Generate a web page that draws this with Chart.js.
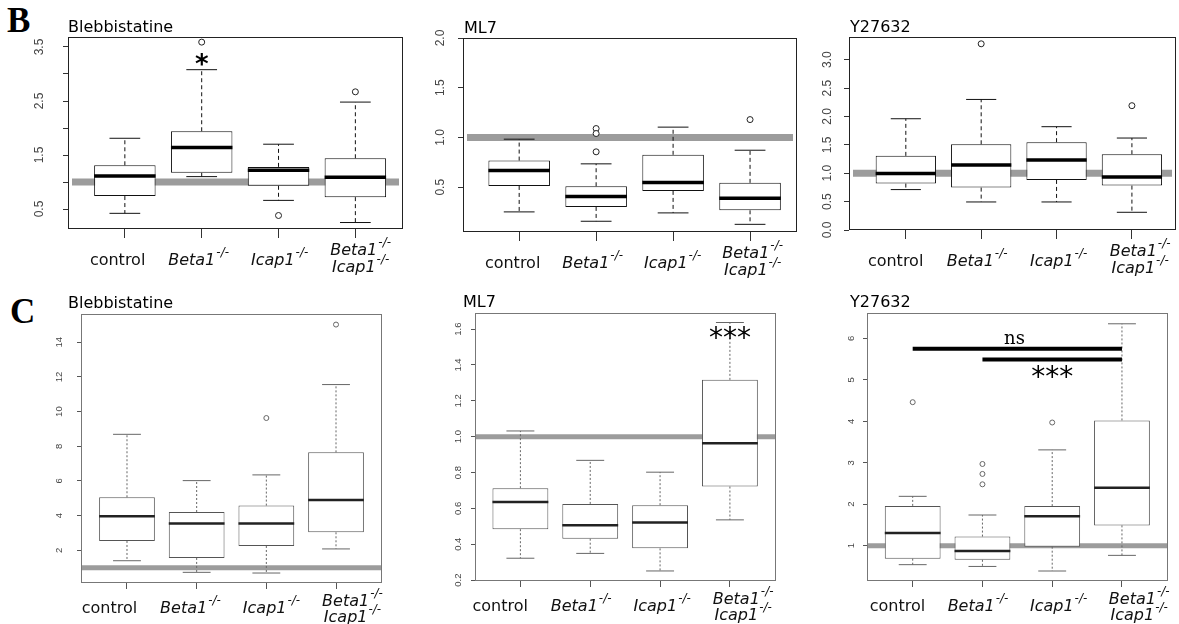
<!DOCTYPE html>
<html><head><meta charset="utf-8">
<script src="https://cdn.jsdelivr.net/npm/chart.js@4.4.1/dist/chart.umd.min.js"></script>
<style>
html,body{margin:0;padding:0;background:#fff;}
#wrap{position:relative;width:1179px;height:624px;overflow:hidden;background:#fff;}
#wrap canvas{position:absolute;}
.letter{position:absolute;font-family:"Liberation Serif","DejaVu Serif",serif;font-weight:bold;font-size:35px;line-height:1;color:#000;}
</style></head><body>
<div id="wrap">
<div class="letter" style="left:7px;top:3px">B</div>
<div class="letter" style="left:10px;top:294px">C</div>
</div>
<script>
// ---------------- data ----------------
const CATEGORIES = ["control", "Beta1-/-", "Icap1-/-", "Beta1-/-\nIcap1-/-"];
const REF_VALUE = 1;

// stats per category: [lower whisker, Q1, median, Q3, upper whisker]
const B_BLEB_STATS = [[0.42,0.74,1.11,1.31,1.81],[1.10,1.17,1.64,1.94,3.08],[0.66,0.93,1.22,1.28,1.70],[0.25,0.72,1.09,1.44,2.48]];
const B_BLEB_OUTLIERS = [[],[3.59],[0.38],[2.67]];
const B_BLEB_YTICKS = [0.5,1,1.5,2,2.5,3,3.5];
const B_BLEB_YLABELS = ["0.5","","1.5","","2.5","","3.5"];
const B_BLEB_MARKS = [["*",2,3.26]];

const B_ML7_STATS = [[0.252,0.513,0.668,0.768,0.983],[0.158,0.302,0.406,0.51,0.735],[0.242,0.463,0.547,0.826,1.104],[0.127,0.268,0.389,0.544,0.872]];
const B_ML7_OUTLIERS = [[],[1.09,1.04,0.856],[],[1.18]];
const B_ML7_YTICKS = [0.5,1,1.5,2];
const B_ML7_YLABELS = ["0.5","1.0","1.5","2.0"];

const B_Y27_STATS = [[0.712,0.818,0.994,1.306,1.96],[0.494,0.747,1.147,1.51,2.30],[0.494,0.882,1.235,1.547,1.82],[0.312,0.782,0.935,1.335,1.62]];
const B_Y27_OUTLIERS = [[],[3.28],[],[2.19]];
const B_Y27_YTICKS = [0,0.5,1,1.5,2,2.5,3];
const B_Y27_YLABELS = ["0.0","0.5","1.0","1.5","2.0","2.5","3.0"];

const C_BLEB_STATS = [[1.40,2.54,3.96,5.06,8.69],[0.73,1.56,3.54,4.21,6.02],[0.69,2.25,3.54,4.58,6.35],[2.08,3.04,4.90,7.65,11.56]];
const C_BLEB_OUTLIERS = [[],[],[9.63],[15.02]];
const C_BLEB_YTICKS = [2,4,6,8,10,12,14];
const C_BLEB_YLABELS = ["2","4","6","8","10","12","14"];

const C_ML7_STATS = [[0.322,0.484,0.635,0.713,1.032],[0.349,0.431,0.506,0.625,0.868],[0.251,0.377,0.521,0.618,0.802],[0.536,0.722,0.963,1.317,1.637]];
const C_ML7_OUTLIERS = [[],[],[],[]];
const C_ML7_YTICKS = [0.2,0.4,0.6,0.8,1.0,1.2,1.4,1.6];
const C_ML7_YLABELS = ["0.2","0.4","0.6","0.8","1.0","1.2","1.4","1.6"];
const C_ML7_MARKS = [["***",4,1.58]];

const C_Y27_STATS = [[0.543,0.687,1.305,1.96,2.19],[0.50,0.66,0.87,1.22,1.74],[0.39,0.976,1.71,1.955,3.31],[0.767,1.49,2.40,4.02,6.35]];
const C_Y27_OUTLIERS = [[4.46],[2.97,2.73,2.48],[3.97],[]];
const C_Y27_YTICKS = [1,2,3,4,5,6];
const C_Y27_YLABELS = ["1","2","3","4","5","6"];
const C_Y27_BRACKETS = [[1,4,5.75],[2,4,5.49]];
const C_Y27_MARKS = [["ns",2.46,5.99],["***",3.0,5.19]];

// ---------------- styles ----------------
const STYLE_B = {
  titleDY:-5.5, yFont:'12px "Liberation Sans", Arial, sans-serif', yColor:'#444',
  labelY1:36, labelY2a:26, labelY2b:42.5, supRaise:9, xTickLen:9, yTickLen:5,
  frameColor:'#222', tickColor:'#333', refWidth:7, refInset:4, refColor:'#9c9c9c',
  boxColor:'#111', whiskerColor:'#111', dash:[4,3], medColor:'#000', medWidth:3.5,
  outColor:'#222', outR:3, starFont:'bold 26px "DejaVu Sans"'
};
const STYLE_C = {
  titleDY:-6, yFont:'9.5px "Liberation Sans", Arial, sans-serif', yColor:'#444',
  labelY1:29.5, labelY2a:22.5, labelY2b:39, supRaise:9, xTickLen:6, yTickLen:4,
  frameColor:'#777', tickColor:'#555', refWidth:5, refInset:1, refColor:'#9c9c9c',
  boxColor:'#555', whiskerColor:'#666', dash:[2,2], medColor:'#222', medWidth:2.5,
  outColor:'#666', outR:2.5, starFont:'28px "DejaVu Sans"'
};

const PANELS = [
  {title:'Blebbistatine', st:STYLE_B, L:68, T:37, R:403, B:229, padR:10, xMin:0.26, xMax:4.62, yMin:0.13, yMax:3.685,
   stats:B_BLEB_STATS, outliers:B_BLEB_OUTLIERS, yTicks:B_BLEB_YTICKS, yLabels:B_BLEB_YLABELS, marks:B_BLEB_MARKS,
   titleDX:0, yLabelDX:-28, labelDX:-1, labelSpacing:81},
  {title:'ML7', st:STYLE_B, L:463, T:38, R:797, B:232, padR:10, xMin:0.27, xMax:4.61, yMin:0.05, yMax:2.0,
   stats:B_ML7_STATS, outliers:B_ML7_OUTLIERS, yTicks:B_ML7_YTICKS, yLabels:B_ML7_YLABELS,
   titleDX:1, yLabelDX:-22, labelDX:-2, labelSpacing:80},
  {title:'Y27632', st:STYLE_B, L:849, T:37, R:1181, B:230, padR:0, xMin:0.246, xMax:4.585, yMin:0, yMax:3.4,
   stats:B_Y27_STATS, outliers:B_Y27_OUTLIERS, yTicks:B_Y27_YTICKS, yLabels:B_Y27_YLABELS,
   titleDX:1, yLabelDX:-21, labelDX:-1, labelSpacing:81.5},
  {title:'Blebbistatine', st:STYLE_C, L:81, T:314, R:382, B:583, padR:10, xMin:0.34, xMax:4.66, yMin:0.115, yMax:15.63,
   stats:C_BLEB_STATS, outliers:C_BLEB_OUTLIERS, yTicks:C_BLEB_YTICKS, yLabels:C_BLEB_YLABELS,
   titleDX:-13, yLabelDX:-22, labelDX:-0.5, labelSpacing:81},
  {title:'ML7', st:STYLE_C, L:475, T:313, R:776, B:581, padR:10, xMin:0.35, xMax:4.66, yMin:0.195, yMax:1.69,
   stats:C_ML7_STATS, outliers:C_ML7_OUTLIERS, yTicks:C_ML7_YTICKS, yLabels:C_ML7_YLABELS, marks:C_ML7_MARKS,
   titleDX:-12, yLabelDX:-17, labelDX:-3.5, labelSpacing:81},
  {title:'Y27632', st:STYLE_C, L:867, T:313, R:1168, B:581, padR:10, xMin:0.345, xMax:4.66, yMin:0.149, yMax:6.61,
   stats:C_Y27_STATS, outliers:C_Y27_OUTLIERS, yTicks:C_Y27_YTICKS, yLabels:C_Y27_YLABELS, marks:C_Y27_MARKS, brackets:C_Y27_BRACKETS,
   titleDX:-17, yLabelDX:-16, labelDX:1, labelSpacing:80.6}
];

// ---------------- plugin ----------------
function drawCatLabel(ctx, text, cx, base, o) {
  const sup = '-/-';
  if (text.endsWith(sup)) {
    const main = text.slice(0, -sup.length);
    ctx.font = 'italic 16px "DejaVu Sans"';
    const w1 = ctx.measureText(main).width;
    ctx.font = 'italic 12px "DejaVu Sans"';
    const w2 = ctx.measureText(sup).width;
    const x0 = cx - (w1 + w2 + 1) / 2;
    ctx.font = 'italic 16px "DejaVu Sans"';
    ctx.fillText(main, x0, base);
    ctx.font = 'italic 12px "DejaVu Sans"';
    ctx.fillText(sup, x0 + w1 + 1, base - o.supRaise);
  } else {
    ctx.font = '16px "DejaVu Sans"';
    const w = ctx.measureText(text).width;
    ctx.fillText(text, cx - w / 2, base);
  }
}

const decor = {
  id: 'decor',
  beforeDatasetsDraw(chart, args, o) {
    const {ctx, chartArea: a} = chart;
    const py = chart.scales.y.getPixelForValue(o.refValue);
    ctx.save();
    ctx.beginPath(); ctx.rect(a.left, a.top, a.width, a.height); ctx.clip();
    ctx.strokeStyle = o.refColor; ctx.lineWidth = o.refWidth;
    ctx.beginPath(); ctx.moveTo(a.left + o.refInset, py); ctx.lineTo(a.right - o.refInset, py); ctx.stroke();
    ctx.restore();
  },
  afterDraw(chart, args, o) {
    const {ctx, chartArea: a} = chart;
    const xs = chart.scales.x, ys = chart.scales.y;
    ctx.save();
    // frame
    ctx.strokeStyle = o.frameColor; ctx.lineWidth = 1;
    ctx.strokeRect(Math.round(a.left) + 0.5, Math.round(a.top) + 0.5, Math.round(a.width) - 1, Math.round(a.height) - 1);
    // title
    ctx.fillStyle = '#000';
    ctx.font = '16px "DejaVu Sans"'; ctx.textAlign = 'left'; ctx.textBaseline = 'alphabetic';
    ctx.fillText(o.title, a.left + o.titleDX, a.top + o.titleDY);
    // y tick labels (rotated like R)
    ctx.fillStyle = o.yColor; ctx.font = o.yFont; ctx.textAlign = 'center'; ctx.textBaseline = 'middle';
    o.yTicks.forEach((v, i) => {
      const lab = o.yLabels[i];
      if (!lab) return;
      const py = ys.getPixelForValue(v);
      ctx.save(); ctx.translate(a.left + o.yLabelDX, py); ctx.rotate(-Math.PI / 2); ctx.fillText(lab, 0, 0); ctx.restore();
    });
    // category labels
    ctx.fillStyle = '#111'; ctx.textAlign = 'left'; ctx.textBaseline = 'alphabetic';
    const mid = xs.getPixelForValue((1 + o.categories.length) / 2);
    const n = o.categories.length;
    o.categories.forEach((cat, i) => {
      const cx = mid + (i - (n - 1) / 2) * o.labelSpacing + o.labelDX;
      const lines = cat.split('\n');
      const bases = lines.length === 1 ? [a.bottom + o.labelY1] : [a.bottom + o.labelY2a, a.bottom + o.labelY2b];
      lines.forEach((ln, j) => drawCatLabel(ctx, ln, cx, bases[j], o));
    });
    // significance marks
    (o.marks || []).forEach(([t, xv, yv]) => {
      ctx.fillStyle = '#000';
      ctx.font = t === 'ns' ? '18px "DejaVu Serif"' : o.starFont;
      const m = ctx.measureText(t);
      const px = xs.getPixelForValue(xv), py = ys.getPixelForValue(yv);
      const inkMid = (m.actualBoundingBoxAscent - m.actualBoundingBoxDescent) / 2;
      ctx.textAlign = 'center';
      ctx.fillText(t, px, py + inkMid);
    });
    ctx.restore();
  }
};

// ---------------- build ----------------
const wrap = document.getElementById('wrap');
const catIdx = CATEGORIES.map((c, i) => i + 1);
const unit = (ctx) => { const xs = ctx.chart.scales.x; return Math.abs(xs.getPixelForValue(2) - xs.getPixelForValue(1)); };

PANELS.forEach(p => {
  const s = p.st;
  const padL = 70, padT = 40, padB = 55, padR = p.padR;
  const w = p.R - p.L + padL + padR, h = p.B - p.T + padT + padB;
  const canvas = document.createElement('canvas');
  canvas.width = w; canvas.height = h;
  canvas.style.left = (p.L - padL) + 'px'; canvas.style.top = (p.T - padT) + 'px';
  canvas.style.width = w + 'px'; canvas.style.height = h + 'px';
  wrap.appendChild(canvas);

  const st = p.stats;
  const boxes = st.map((v, i) => ({x: catIdx[i], y: [v[1], v[3]]}));
  const medians = st.map((v, i) => ({x: catIdx[i], y: v[2]}));
  const caps = st.flatMap((v, i) => [{x: catIdx[i], y: v[0]}, {x: catIdx[i], y: v[4]}]);
  const whiskers = st.flatMap((v, i) => [
    {x: catIdx[i], y: v[3]}, {x: catIdx[i], y: v[4]}, {x: catIdx[i], y: null},
    {x: catIdx[i], y: v[1]}, {x: catIdx[i], y: v[0]}, {x: catIdx[i], y: null}]);
  const outliers = p.outliers.flatMap((arr, i) => arr.map(v => ({x: catIdx[i], y: v})));
  const brackets = (p.brackets || []).flatMap(([x1, x2, y]) => [{x: x1, y}, {x: x2, y}, {x: x2, y: null}]);

  new Chart(canvas, {
    type: 'bar',
    data: {datasets: [
      {type: 'line', data: whiskers, borderColor: s.whiskerColor, borderWidth: 1, borderDash: s.dash, pointRadius: 0, spanGaps: false, fill: false, order: 6},
      {type: 'bar', data: boxes, backgroundColor: '#fff', borderColor: s.boxColor, borderWidth: 1, borderSkipped: false, categoryPercentage: 0.8, barPercentage: 1, order: 5},
      {type: 'scatter', data: caps, pointStyle: 'line', pointRadius: c => 0.2 * unit(c), borderColor: s.whiskerColor, borderWidth: 1, order: 4},
      {type: 'scatter', data: medians, pointStyle: 'line', pointRadius: c => 0.4 * unit(c), borderColor: s.medColor, borderWidth: s.medWidth, order: 3},
      {type: 'scatter', data: outliers, pointStyle: 'circle', pointRadius: s.outR, backgroundColor: '#fff', borderColor: s.outColor, borderWidth: 1, order: 2},
      {type: 'line', data: brackets, borderColor: '#000', borderWidth: 4, pointRadius: 0, spanGaps: false, fill: false, order: 1}
    ]},
    options: {
      responsive: false, maintainAspectRatio: false, animation: false, events: [],
      layout: {padding: {left: 0, top: padT, right: padR, bottom: 0}},
      plugins: {
        legend: {display: false}, tooltip: {enabled: false}, title: {display: false},
        decor: Object.assign({}, s, {
          title: p.title, titleDX: p.titleDX, yLabelDX: p.yLabelDX, yTicks: p.yTicks, yLabels: p.yLabels,
          categories: CATEGORIES, labelSpacing: p.labelSpacing, labelDX: p.labelDX, marks: p.marks, refValue: REF_VALUE
        })
      },
      scales: {
        x: {type: 'linear', min: p.xMin, max: p.xMax, offset: false,
            afterBuildTicks: sc => { sc.ticks = catIdx.map(v => ({value: v})); },
            afterFit: sc => { sc.height = padB; },
            ticks: {display: false},
            grid: {offset: false, drawOnChartArea: false, drawTicks: true, tickLength: s.xTickLen, color: s.tickColor, lineWidth: 1},
            border: {display: false}},
        y: {type: 'linear', min: p.yMin, max: p.yMax,
            afterBuildTicks: sc => { sc.ticks = p.yTicks.map(v => ({value: v})); },
            afterFit: sc => { sc.width = padL; },
            ticks: {display: false},
            grid: {offset: false, drawOnChartArea: false, drawTicks: true, tickLength: s.yTickLen, color: s.tickColor, lineWidth: 1},
            border: {display: false}}
      }
    },
    plugins: [decor]
  });
});
</script>
</body></html>
